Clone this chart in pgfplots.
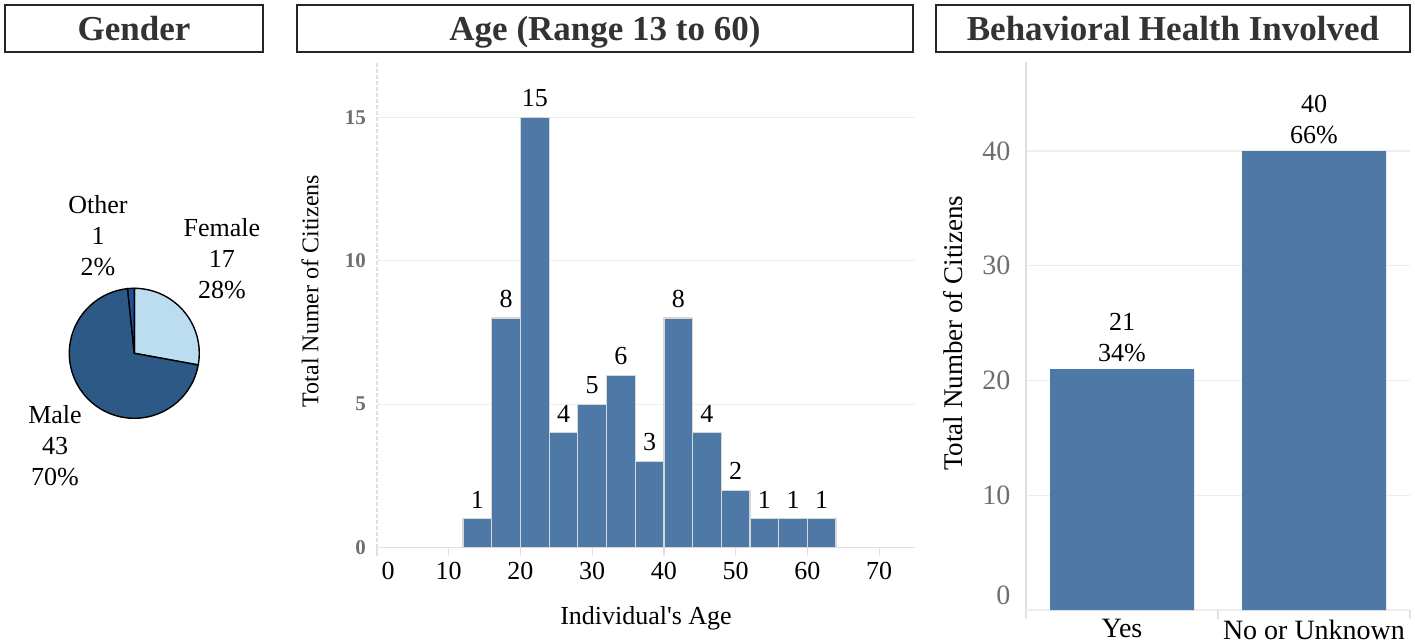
\documentclass[border=0pt]{standalone}
\usepackage{fontspec}
\setmainfont{Liberation Serif}
\usepackage{pgfplots}
\pgfplotsset{compat=1.18}
\usepackage{pgfplotstable}

\definecolor{barblue}{HTML}{4E79A7}
\definecolor{femalec}{HTML}{BCDDF0}
\definecolor{malec}{HTML}{2C5986}
\definecolor{otherc}{HTML}{1F4E9C}
\definecolor{gridc}{HTML}{EEEEEE}
\definecolor{axisc}{HTML}{E0E0E0}
\definecolor{titlec}{HTML}{333333}
\definecolor{tickc}{HTML}{6E6E6E}
\definecolor{barline}{HTML}{D6D6D6}

% age histogram: bin centres (width 4) and counts
\pgfplotstableread{
center count
14 1
18 8
22 15
26 4
30 5
34 6
38 3
42 8
46 4
50 2
54 1
58 1
62 1
}\agetable

% behavioral health involvement
\pgfplotstableread{
idx count pct
0 21 34
1 40 66
}\bhtable

% gender counts
\def\nFemale{17}
\def\nMale{43}
\def\nOther{1}
\def\nTotal{61}

\begin{document}
\begin{tikzpicture}
\useasboundingbox (0,0) rectangle (707.5pt,321.5pt);

\tikzset{titlebox/.style={draw=black!85, line width=0.8pt, fill=white,
  text=titlec, font=\fontsize{17.5}{20}\selectfont\bfseries, inner sep=0pt,
  minimum height=23.5pt, text height=12pt, text depth=0pt}}
\node[titlebox, minimum width=129pt] at (67pt,307.25pt) {Gender};
\node[titlebox, minimum width=308pt] at (302.5pt,307.25pt) {Age (Range 13 to 60)};
\node[titlebox, minimum width=237pt] at (586.5pt,307.25pt) {Behavioral Health Involved};

\pgfmathsetmacro\aF{90-360*\nFemale/\nTotal}
\pgfmathsetmacro\aM{\aF-360*\nMale/\nTotal}

% ---- gender pie ----
\begin{axis}[hide axis, x=32.5pt, y=32.5pt,
  xmin=-1.05, xmax=1.05, ymin=-1.05, ymax=1.05,
  anchor=center, at={(67.15pt,144.85pt)}, clip=false]
\draw[fill=femalec, draw=black, line width=0.7pt] (axis cs:0,0) -- (axis cs:0,1)
  arc[start angle=90, end angle=\aF, radius=32.5pt] -- cycle;
\draw[fill=malec, draw=black, line width=0.7pt] (axis cs:0,0) -- (axis cs:{cos(\aF)},{sin(\aF)})
  arc[start angle=\aF, end angle=\aM, radius=32.5pt] -- cycle;
\draw[fill=otherc, draw=black, line width=0.7pt] (axis cs:0,0) -- (axis cs:{cos(\aM)},{sin(\aM)})
  arc[start angle=\aM, end angle=-270, radius=32.5pt] -- cycle;
\tikzset{pielab/.style={align=center, font=\fontsize{13}{15.5}\selectfont}}
\node[pielab] at (axis cs:-0.558,1.805) {Other\\1\\2\%};
\node[pielab] at (axis cs:1.349,1.451) {Female\\17\\28\%};
\node[pielab] at (axis cs:-1.22,-1.426) {Male\\43\\70\%};
\end{axis}

% ---- age histogram ----
\begin{axis}[at={(188.5pt,47.75pt)}, anchor=south west, scale only axis,
  width=269pt, height=242.75pt,
  xmin=0, xmax=75, ymin=0, ymax=16.93,
  axis x line*=bottom, axis y line*=left,
  x axis line style={axisc, line width=0.6pt, -},
  y axis line style={axisc, line width=0.6pt, dash pattern=on 2pt off 1pt, -},
  xtick={10,20,...,70}, extra x ticks={0},
  extra x tick style={xticklabel style={xshift=5.5pt}},
  ytick={0,5,10,15}, ymajorgrids, grid style={gridc, line width=0.6pt},
  ytick style={draw=none}, xtick style={axisc, line width=0.6pt},
  tick align=outside, major tick length=4pt,
  /pgf/number format/assume math mode=true,
  yticklabel style={font=\fontsize{10.5}{12}\selectfont\bfseries, text=tickc, xshift=2pt},
  xticklabel style={font=\fontsize{13}{15}\selectfont},
  ylabel={Total Numer of Citizens},
  ylabel style={at={(axis description cs:-0.1245,0.528)}, anchor=center,
    font=\fontsize{12}{14}\selectfont},
  xlabel={Individual\textquotesingle s Age},
  xlabel style={at={(axis description cs:0.5,-0.145)}, anchor=center,
    font=\fontsize{13}{15}\selectfont},
  ybar, bar width=4,
  nodes near coords,
  every node near coord/.append style={font=\fontsize{13}{15}\selectfont, black, yshift=1.5pt},
]
\addplot[fill=barblue, draw=barline, line width=0.6pt] table[x=center, y=count]{\agetable};
\end{axis}

% ---- behavioral health bars ----
\begin{axis}[at={(513pt,16.5pt)}, anchor=south west, scale only axis,
  width=192pt, height=274pt,
  xmin=-0.5, xmax=1.5, ymin=0, ymax=47.76,
  axis x line*=bottom, axis y line*=left,
  axis line style={axisc, line width=0.6pt, -},
  xtick={0,1}, xticklabels={Yes, No or Unknown},
  xtick style={draw=none},
  extra x ticks={-0.5,0.5,1.5}, extra x tick labels={},
  extra x tick style={xtick style={draw=axisc, line width=0.6pt}, major tick length=4.5pt},
  tick align=outside,
  ytick={10,20,30,40}, extra y ticks={0},
  extra y tick style={yticklabel style={yshift=7.5pt}, ymajorgrids},
  ytick style={draw=none},
  ymajorgrids, grid style={gridc, line width=0.6pt},
  /pgf/number format/assume math mode=true,
  yticklabel style={font=\fontsize{14}{16}\selectfont, text=tickc},
  xticklabel style={font=\fontsize{14}{16}\selectfont, yshift=3pt, text depth=0pt},
  ylabel={Total Number of Citizens},
  ylabel style={at={(axis description cs:-0.19,0.505)}, anchor=center,
    font=\fontsize{13.5}{15}\selectfont},
  ybar, bar width=0.75,
  visualization depends on={\thisrow{pct} \as \pctval},
  nodes near coords={\pgfmathprintnumber{\pgfplotspointmeta}\\\pgfmathprintnumber{\pctval}\%},
  every node near coord/.append style={font=\fontsize{13}{15.5}\selectfont, black, align=center},
]
\addplot[fill=barblue, draw=none] table[x=idx, y=count]{\bhtable};
\end{axis}
\end{tikzpicture}
\end{document}
